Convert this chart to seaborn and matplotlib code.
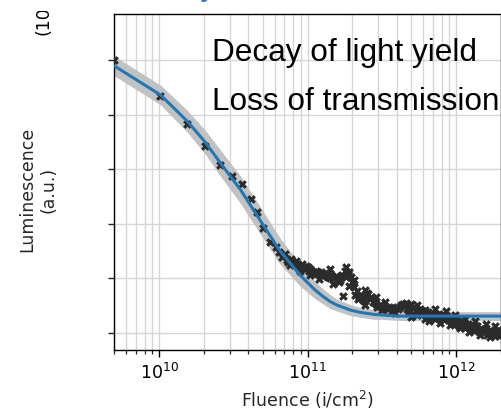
import numpy as np
import pandas as pd
import matplotlib
matplotlib.use("Agg")
import matplotlib.pyplot as plt
from matplotlib.ticker import LogLocator, NullFormatter, FixedLocator
from matplotlib.patches import Rectangle
import seaborn as sns

# ---------------- data ----------------
# measured points: log10 of fluence (i/cm^2) and luminescence (a.u.)
meas_log_fluence = [
    9.70, 10.01, 10.19, 10.31, 10.41, 10.49, 10.56, 10.62, 10.66, 10.70, 10.75, 10.79, 10.81,
    10.85, 10.87, 10.89, 10.91, 10.92, 10.94, 10.96, 10.98, 10.99, 11.01, 11.02, 11.04, 11.06,
    11.08, 11.09, 11.11, 11.12, 11.14, 11.16, 11.18, 11.19, 11.21, 11.23, 11.25, 11.26, 11.27,
    11.29, 11.30, 11.31, 11.33, 11.24, 11.34, 11.36, 11.37, 11.39, 11.41, 11.43, 11.44, 11.46,
    11.47, 11.49, 11.51, 11.53, 11.54, 11.56, 11.58, 11.60, 11.61, 11.63, 11.64, 11.66, 11.68,
    11.70, 11.71, 11.73, 11.74, 11.76, 11.78, 11.80, 11.81, 11.83, 11.85, 11.87, 11.88, 11.90,
    11.91, 11.93, 11.95, 11.97, 11.98, 12.00, 12.01, 12.03, 12.05, 12.07, 12.08, 12.10, 12.11,
    12.13, 12.15, 12.17, 12.18, 12.20, 12.22, 12.24, 12.25, 12.27, 12.28, 12.30,
    11.79, 11.82, 11.89, 11.96, 12.03, 12.09, 12.16, 12.23, 12.29, 11.86, 11.93, 11.99, 12.06,
    12.13, 12.20, 12.26, 11.68, 11.70, 11.74, 11.59, 11.52, 11.46, 11.39, 11.32, 11.28, 11.17,
    11.08, 11.02, 10.95, 11.15, 11.21, 11.26,
    10.83, 10.86, 10.88, 10.90, 10.93, 10.97, 11.00, 11.03, 11.05, 11.07, 11.10, 11.13, 11.15,
    11.17, 11.20, 11.22, 11.28, 11.31, 11.35, 11.38, 11.40, 11.42, 11.45, 11.48, 11.50, 11.55,
    11.57, 11.62, 11.65, 11.67, 11.69, 11.72, 11.75, 11.77, 11.79, 11.84, 11.86, 11.89, 11.92,
    11.94, 11.97, 12.00, 12.02, 12.04, 12.06, 12.09, 12.12, 12.14, 12.16, 12.19, 12.21, 12.23,
    12.26, 12.28, 12.30,
]
meas_luminescence = [
    5.00, 4.34, 3.83, 3.42, 3.08, 2.88, 2.73, 2.45, 2.22, 1.92, 1.67, 1.58, 1.48,
    1.45, 1.30, 1.36, 1.26, 1.32, 1.21, 1.26, 1.17, 1.23, 1.14, 1.17, 1.10, 1.14,
    1.08, 1.12, 1.06, 1.10, 1.03, 1.06, 1.01, 1.04, 0.99, 1.06, 1.14, 1.21, 1.08,
    1.03, 0.93, 0.84, 0.77, 0.68, 0.62, 0.70, 0.62, 0.79, 0.71, 0.66, 0.57, 0.53,
    0.48, 0.51, 0.46, 0.48, 0.44, 0.46, 0.44, 0.48, 0.44, 0.51, 0.53, 0.55, 0.49,
    0.53, 0.46, 0.42, 0.51, 0.44, 0.40, 0.37, 0.38, 0.35, 0.29, 0.33, 0.27, 0.29,
    0.35, 0.31, 0.26, 0.22, 0.27, 0.20, 0.16, 0.18, 0.15, 0.13, 0.16, 0.11, 0.07,
    0.09, 0.05, 0.07, 0.02, 0.04, 0.00, 0.02, -0.02, 0.00, 0.02, 0.04,
    0.26, 0.22, 0.18, 0.15, 0.09, 0.02, -0.04, -0.07, -0.05, 0.44, 0.40, 0.33, 0.26,
    0.22, 0.16, 0.13, 0.37, 0.29, 0.33, 0.37, 0.57, 0.66, 0.51, 0.70, 0.86, 0.90,
    0.99, 1.06, 1.14, 1.17, 0.93, 1.03,
    1.40, 1.33, 1.24, 1.30, 1.25, 1.19, 1.20, 1.12, 1.08, 1.12, 1.04, 1.08, 1.00,
    1.03, 1.02, 0.97, 1.12, 0.98, 0.66, 0.58, 0.74, 0.62, 0.56, 0.50, 0.42, 0.48,
    0.40, 0.47, 0.49, 0.44, 0.40, 0.48, 0.38, 0.34, 0.42, 0.32, 0.25, 0.33, 0.24,
    0.28, 0.18, 0.24, 0.12, 0.22, 0.09, 0.15, 0.04, 0.13, 0.01, 0.08, -0.03, 0.06,
    -0.05, 0.06, -0.02,
]

# fitted curve and its uncertainty band
fit_log_fluence = [9.70, 10.01, 10.10, 10.19, 10.31, 10.42, 10.55, 10.68, 10.81, 10.95,
                   11.05, 11.10, 11.15, 11.20, 11.29, 11.35, 11.45, 11.50, 11.62, 12.31]
fit_luminescence = [4.89, 4.36, 4.12, 3.88, 3.50, 3.09, 2.62, 2.07, 1.52, 1.06,
                    0.79, 0.68, 0.58, 0.51, 0.42, 0.38, 0.34, 0.33, 0.31, 0.31]
fit_band_halfwidth = [0.18, 0.18, 0.19, 0.20, 0.22, 0.24, 0.25, 0.25, 0.24, 0.20,
                      0.16, 0.14, 0.13, 0.11, 0.10, 0.09, 0.09, 0.08, 0.08, 0.08]

x_tick_exponents = [10, 11, 12]
y_tick_values = [0, 1, 2, 3, 4, 5]

text_lines = ["Decay of light yield", "Loss of transmission"]

meas = pd.DataFrame({"fluence": 10.0 ** np.array(meas_log_fluence),
                     "lum": meas_luminescence})
fit = pd.DataFrame({"fluence": 10.0 ** np.array(fit_log_fluence),
                    "lum": fit_luminescence,
                    "hw": fit_band_halfwidth})

# ---------------- figure ----------------
sns.set_theme(style="ticks")
plt.rcParams["font.family"] = ["DejaVu Sans"]

W, H = 502, 410
fig = plt.figure(figsize=(W / 100, H / 100), dpi=100)
ax = fig.add_axes([114 / W, 1 - 351 / H, (501 - 114) / W, (351 - 15) / H])

ax.set_xscale("log")
ax.set_xlim(10 ** 9.697, 10 ** 12.303)
ax.set_ylim(-0.311, 5.842)

# grid
ax.xaxis.set_major_locator(FixedLocator([10.0 ** e for e in x_tick_exponents]))
ax.xaxis.set_minor_locator(LogLocator(base=10, subs=np.arange(2, 10)))
ax.xaxis.set_minor_formatter(NullFormatter())
ax.set_yticks(y_tick_values)
ax.set_yticklabels([])
ax.grid(True, which="major", axis="both", color="#d6d6d6", linewidth=1.0, zorder=0)
ax.grid(True, which="minor", axis="x", color="#d6d6d6", linewidth=1.0, zorder=0)
ax.set_axisbelow(True)

# band
ax.fill_between(fit["fluence"], fit["lum"] - fit["hw"], fit["lum"] + fit["hw"],
                color="#c2c2c2", linewidth=0, zorder=2)
# measured points
sns.scatterplot(data=meas, x="fluence", y="lum", ax=ax, marker="X", s=40,
                color="#2b2b2b", linewidth=0, zorder=3, legend=False)
# fit line
sns.lineplot(data=fit, x="fluence", y="lum", ax=ax, color="#2178b5",
             linewidth=2.2, zorder=4, legend=False)

for sp in ax.spines.values():
    sp.set_visible(True)
    sp.set_color("black")
    sp.set_linewidth(1.0)

ax.tick_params(axis="x", which="major", length=5, width=1.0, labelsize=12.5,
               colors="black", direction="out")
ax.tick_params(axis="x", which="minor", length=3, width=0.9, direction="out")
ax.tick_params(axis="y", which="major", length=4.5, width=1.0, direction="out")

ax.set_xlabel("Fluence (i/cm$^2$)", fontsize=12.5, labelpad=4)
ax.set_ylabel("Luminescence\n(a.u.)", fontsize=12.5, multialignment="center")
ax.yaxis.set_label_coords(-0.147, 0.48)

# overlay texts
fig.text(212 / W, 1 - 61 / H, text_lines[0], fontsize=22.7, family="Liberation Sans",
         color="black", ha="left", va="baseline")
fig.text(212 / W, 1 - 110 / H, text_lines[1], fontsize=22.7, family="Liberation Sans",
         color="black", ha="left", va="baseline")

# clipped blue title fragment at the top
fig.text(203 / W, 1 + 5 / H, "y", fontsize=22, family="Liberation Sans",
         style="italic", color="#2f6fcf", ha="left", va="baseline")

# clipped rotated offset text at top left
t = fig.text(43.5 / W, 1 - 35 / H, "(10", fontsize=12.5, rotation=90,
             ha="center", va="bottom", color="black")
clip_rect = Rectangle((0, 0), 0.3, 1 - 12 / H, transform=fig.transFigure,
                      facecolor="none", edgecolor="none")
t.set_clip_path(clip_rect)
t.set_clip_on(True)

fig.savefig("out.png", dpi=100)
